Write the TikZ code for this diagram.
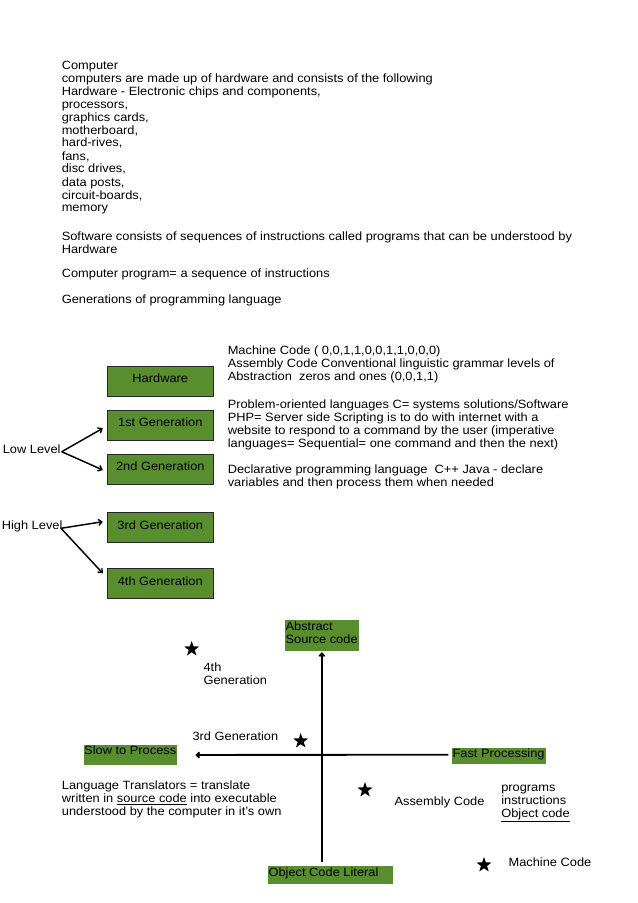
\documentclass[tikz,border=0pt]{standalone}
\usepackage{fontspec}
\setmainfont{Liberation Sans}[FakeStretch=1.07]
\usetikzlibrary{arrows.meta,shapes.geometric,calc}
\definecolor{boxgreen}{RGB}{88,142,46}
\newcommand{\ml}[1]{\begin{tabular}[t]{@{}l@{}}#1\end{tabular}}
\begin{document}
\begin{tikzpicture}[x=0.75pt,y=-0.75pt,
  tl/.style={inner sep=0pt, font=\fontsize{9}{9.75}\selectfont, anchor=base west},
  genbox/.style={draw=black!85, line width=0.75pt, fill=boxgreen, minimum width=79.5pt,
    minimum height=22.5pt, inner sep=0pt, text height=7pt, text depth=5pt,
    font=\fontsize{9}{9.75}\selectfont, text=black},
  lab/.style={fill=boxgreen, inner ysep=0pt, anchor=north west,
    font=\fontsize{9}{9.75}\selectfont, text=black},
  conn/.style={line width=1.1pt, -{Straight Barb[length=2.5pt,width=4.5pt]}},
  axis/.style={line width=1.4pt, -{Straight Barb[length=2pt,width=4pt]}},
  starmark/.style={star, star points=5, star point ratio=2.5, minimum size=12pt,
    inner sep=0pt, fill=black, draw=none}
]
\fill[white] (0,0) rectangle (638,903);
\useasboundingbox (0,0) rectangle (638,903);

% top text
\node[tl] (p1) at (61.5,69) {\ml{Computer\\computers are made up of hardware and consists of the following\\Hardware - Electronic chips and components,\\processors,\\graphics cards,\\motherboard,\\hard-rives,\\fans,\\disc drives,\\data posts,\\circuit-boards,\\memory}};
\node[tl] (p2) at (61.5,240) {\ml{Software consists of sequences of instructions called programs that can be understood by\\Hardware}};
\node[tl] (p3) at (61.5,277) {Computer program= a sequence of instructions};
\node[tl] (p4) at (61.5,303) {Generations of programming language};

% right column
\node[tl] (r1) at (227.5,354.5) {\ml{Machine Code ( 0,0,1,1,0,0,1,1,0,0,0)\\Assembly Code Conventional linguistic grammar levels of\\Abstraction\ \ zeros and ones (0,0,1,1)}};
\node[tl] (r2) at (227.5,408) {\ml{Problem-oriented languages C= systems solutions/Software\\PHP= Server side Scripting is to do with internet with a\\website to respond to a command by the user (imperative\\languages= Sequential= one command and then the next)}};
\node[tl] (r3) at (227.5,473) {\ml{Declarative programming language\ \ C++ Java - declare\\variables and then process them when needed}};

% generation boxes
\node[genbox] (hw) at (160.3,381) {Hardware};
\node[genbox] (g1) at (160.3,425) {1st Generation};
\node[genbox] (g2) at (160.3,469) {2nd Generation};
\node[genbox] (g3) at (160.3,527.7) {3rd Generation};
\node[genbox] (g4) at (160.3,583.7) {4th Generation};

\node[tl] (low) at (2.5,453) {Low Level};
\node[tl] (high) at (1.5,529) {High Level};
\coordinate (lowo) at (61.7,451.7);
\coordinate (higho) at (61,528.3);
\draw[conn] (lowo) -- ($(g1.west)+(-4,3.3)$);
\draw[conn] (lowo) -- ($(g2.west)+(-4,1)$);
\draw[conn] (higho) -- ($(g3.west)+(-4,-6)$);
\draw[conn] (higho) -- ($(g4.west)+(-4,-10.4)$);

% bottom chart labels
\node[lab, inner xsep=0.75pt, text height=7.5pt, text depth=15.5pt] (abs) at (284.3,620) {\makebox[54.5pt][l]{\ml{Abstract\\Source code}}};
\node[lab, inner xsep=0.5pt, text height=7pt, text depth=8pt] (slow) at (83.3,745) {\makebox[69pt][l]{Slow to Process}};
\node[lab, inner xsep=0.75pt, text height=7.5pt, text depth=5pt] (fast) at (451.3,747.3) {\makebox[69.3pt][l]{Fast Processing}};
\node[lab, inner xsep=0.2pt, text height=7.5pt, text depth=6pt] (lit) at (268,866) {\makebox[92.8pt][l]{Object Code Literal}};

% axes
\draw[axis] ($(abs.south |- lit.north)+(0,-4.3)$) -- ($(abs.south)+(0,1)$);
\coordinate (hx) at (448.3,754.7);
\draw[axis] (hx) -- ($(slow.east)+(18.3,-0.3)$);

% stars and their labels
\node[starmark] (s1) at (191.7,649) {};
\node[starmark] (s2) at (300.7,741) {};
\node[starmark] (s3) at (365,790) {};
\node[starmark] (s4) at (484,865) {};
\node[tl] (l4) at (203.3,671.7) {\ml{4th\\Generation}};
\node[tl] (l3) at (192.3,740) {3rd Generation};
\node[tl] (la) at (394.3,805) {Assembly Code};
\node[tl] (lp) at (501,791) {\ml{programs\\instructions\\\underline{Object code}}};
\node[tl] (lm) at (508.3,866) {Machine Code};
\node[tl] (lt) at (61.7,789) {\ml{Language Translators = translate\\written in \underline{source code} into executable\\understood by the computer in it’s own}};
\end{tikzpicture}
\end{document}
